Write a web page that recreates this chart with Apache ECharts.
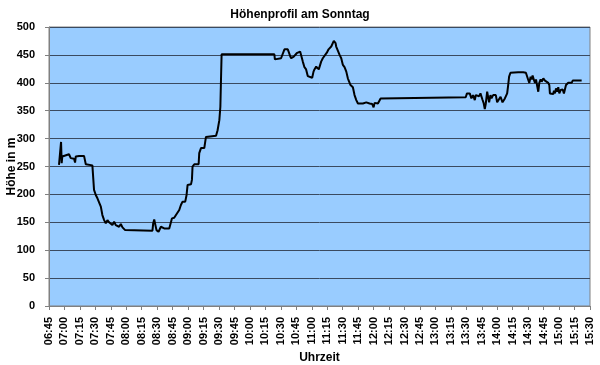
<!DOCTYPE html>
<html>
<head>
<meta charset="utf-8">
<script src="https://cdn.jsdelivr.net/npm/echarts@6/dist/echarts.min.js"></script>
<style>
html,body{margin:0;padding:0;background:#fff;}
#chart{width:600px;height:365px;}
</style>
</head>
<body>
<div id="chart"></div>
<script>
// Time in minutes since midnight
var times = [
  414.7, 416.7, 417.3, 417.9, 419.6, 424.4, 426.1, 429.3, 430.3, 431, 434.2, 439, 440.7, 447.1, 448.1, 448.7,
  450.4, 452, 453.6, 455.3, 456.8, 458.5, 460.1, 461.7, 463.3, 466.5, 468.2, 469.8, 471.4, 473, 474.7, 476.3,
  478.9, 480.2,
  505.4, 506.1, 507.1, 508, 509.3, 511.3, 513.6, 516.8, 521.7, 523.3, 524.3, 526.5, 528.2, 529.8, 531.4, 533,
  534.6, 537.2, 538.5, 539.5, 542.8, 543.7, 544.3, 546, 550.2, 550.8, 552.5, 555.7, 557.3, 567.1, 568.6, 570.3,
  571.3, 571.9, 572.5,
  623.7, 624.2, 630.2, 631.8, 633.5, 636.7, 637.7, 639, 640, 641.6, 642.5, 644.2, 645.4, 646.4, 648.7, 650,
  651.3, 652.9, 654.5, 656.1, 657.1, 660.4, 661.7, 662.6, 664.3, 666.8, 669.1, 670.7, 672.4, 674.6, 676.3, 678.9,
  680.5, 681.4, 683.1, 683.7, 685.3, 687, 688.6, 690.2, 691.8, 693.5, 695, 696.7, 697.6, 699.9, 701.5, 703.2,
  704.8, 706.4,
  709.6, 712.9, 716.1, 718.7, 720, 721, 724.2, 725.8, 726.8, 727.5, 809.4, 810.6,
  813.3, 814.9, 816.5, 818.2, 819.2, 820.4, 822.4, 823.7, 825.6, 826.9, 827.9, 828.9, 830.2, 831.1, 832.1, 833.4,
  834.4, 836, 838.6, 839.9, 841.8, 843.2, 845.1, 846.4, 847.4, 848.3, 849.6, 850.6, 851.5, 852.8, 853.8, 860.3,
  865.2, 867.8, 869.1, 870.1, 871.1, 872.4, 873.4, 874.3, 875.6, 876.6, 877.6, 878.9, 879.8, 880.8, 882.1, 883.1,
  884.7, 886.3, 887.9, 889.5, 890.5, 891.1, 891.8, 894.4, 895, 896, 897, 898.3, 899.2, 900.2, 901.5, 903.5,
  904.7, 905.7, 906.7, 907.9, 908.9, 912.2, 913.2, 921.9
];
// Height in m
var heights = [
  253, 294, 256, 268, 271, 272, 265, 264, 257, 268, 269, 269, 254, 252, 251, 208,
  199, 193, 190, 178, 163, 154, 148, 154, 150, 145, 151, 145, 148, 142, 147, 141,
  136, 135,
  135, 148, 155, 157, 136, 133, 142, 139, 139, 142, 157, 158, 163, 165, 172, 181,
  187, 187, 199, 217, 218, 226, 250, 254, 254, 274, 283, 283, 303, 305, 315, 333,
  357, 405, 451,
  451, 442, 444, 447, 460, 460, 455, 448, 444, 442, 447, 444, 453, 456, 456, 447,
  438, 428, 424, 412, 409, 409, 420, 424, 429, 424, 438, 444, 444, 454, 460, 465,
  468, 475, 471, 465, 462, 450, 444, 432, 428, 420, 408, 405, 396, 392, 378, 369,
  363, 363,
  363, 365, 363, 362, 356, 364, 363, 365, 372, 374, 374, 381,
  381, 372, 378, 369, 378, 381, 376, 381, 370, 363, 353, 363, 384, 381, 365, 378,
  372, 378, 378, 365, 365, 375, 365, 365, 372, 375, 381, 396, 411, 418, 420, 419,
  419, 418, 417, 405, 400, 411, 406, 413, 405, 400, 406, 393, 384, 400, 406, 402,
  408, 404, 404, 400, 396, 381, 378, 380, 386, 381, 390, 384, 392, 381, 387, 388,
  381, 380, 396, 396, 400, 400, 404, 404
];
var xMin = 405, xMax = 930, xStep = 15;   // 06:45 .. 15:30
var yTicks = [0, 50, 100, 150, 200, 250, 300, 350, 400, 450, 500];

var seriesData = times.map(function (t, i) { return [t, heights[i]]; });
function fmt(m) {
  var h = Math.floor(m / 60), mm = Math.round(m % 60);
  return (h < 10 ? '0' : '') + h + ':' + (mm < 10 ? '0' : '') + mm;
}
var FONT = '"Liberation Sans", Arial, sans-serif';

var chart = echarts.init(document.getElementById('chart'), null, {renderer: 'canvas'});
chart.setOption({
  animation: false,
  backgroundColor: '#ffffff',
  title: {
    text: 'Höhenprofil am Sonntag',
    left: 'center', top: 4,
    textStyle: {fontFamily: FONT, fontSize: 12, fontWeight: 'bold', color: '#000'}
  },
  grid: {
    left: 49, right: 10, top: 27, bottom: 59,
    outerBoundsMode: 'none', containLabel: false,
    show: true, backgroundColor: '#99CCFF', borderColor: '#808080', borderWidth: 1
  },
  xAxis: {
    type: 'value', min: xMin, max: xMax, interval: xStep,
    name: 'Uhrzeit', nameLocation: 'middle', nameGap: 46, nameMoveOverlap: false,
    nameTextStyle: {fontFamily: FONT, fontSize: 12, fontWeight: 'bold', color: '#000'},
    axisLine: {show: true, lineStyle: {color: '#808080', width: 1}},
    axisTick: {show: true, length: 4, lineStyle: {color: '#808080'}},
    axisLabel: {
      rotate: 90, margin: 11,
      fontFamily: FONT, fontSize: 11, fontWeight: 'bold', color: '#000',
      formatter: function (v) { return fmt(v); }
    },
    splitLine: {show: false}
  },
  yAxis: {
    type: 'value', min: yTicks[0], max: yTicks[yTicks.length - 1], interval: yTicks[1] - yTicks[0],
    name: 'Höhe in m', nameLocation: 'middle', nameGap: 31, nameRotate: 90, nameMoveOverlap: false,
    nameTextStyle: {fontFamily: FONT, fontSize: 12, fontWeight: 'bold', color: '#000'},
    axisLine: {show: true, lineStyle: {color: '#808080', width: 1}},
    axisTick: {show: true, length: 4, lineStyle: {color: '#808080'}},
    axisLabel: {margin: 14, fontFamily: FONT, fontSize: 11, fontWeight: 'bold', color: '#000'},
    splitLine: {show: true, lineStyle: {color: '#3a4a60', width: 1}}
  },
  series: [{
    type: 'line',
    data: seriesData,
    showSymbol: false,
    symbol: 'none',
    lineStyle: {color: '#000000', width: 2},
    itemStyle: {color: '#000000'}
  }]
});
</script>
</body>
</html>
